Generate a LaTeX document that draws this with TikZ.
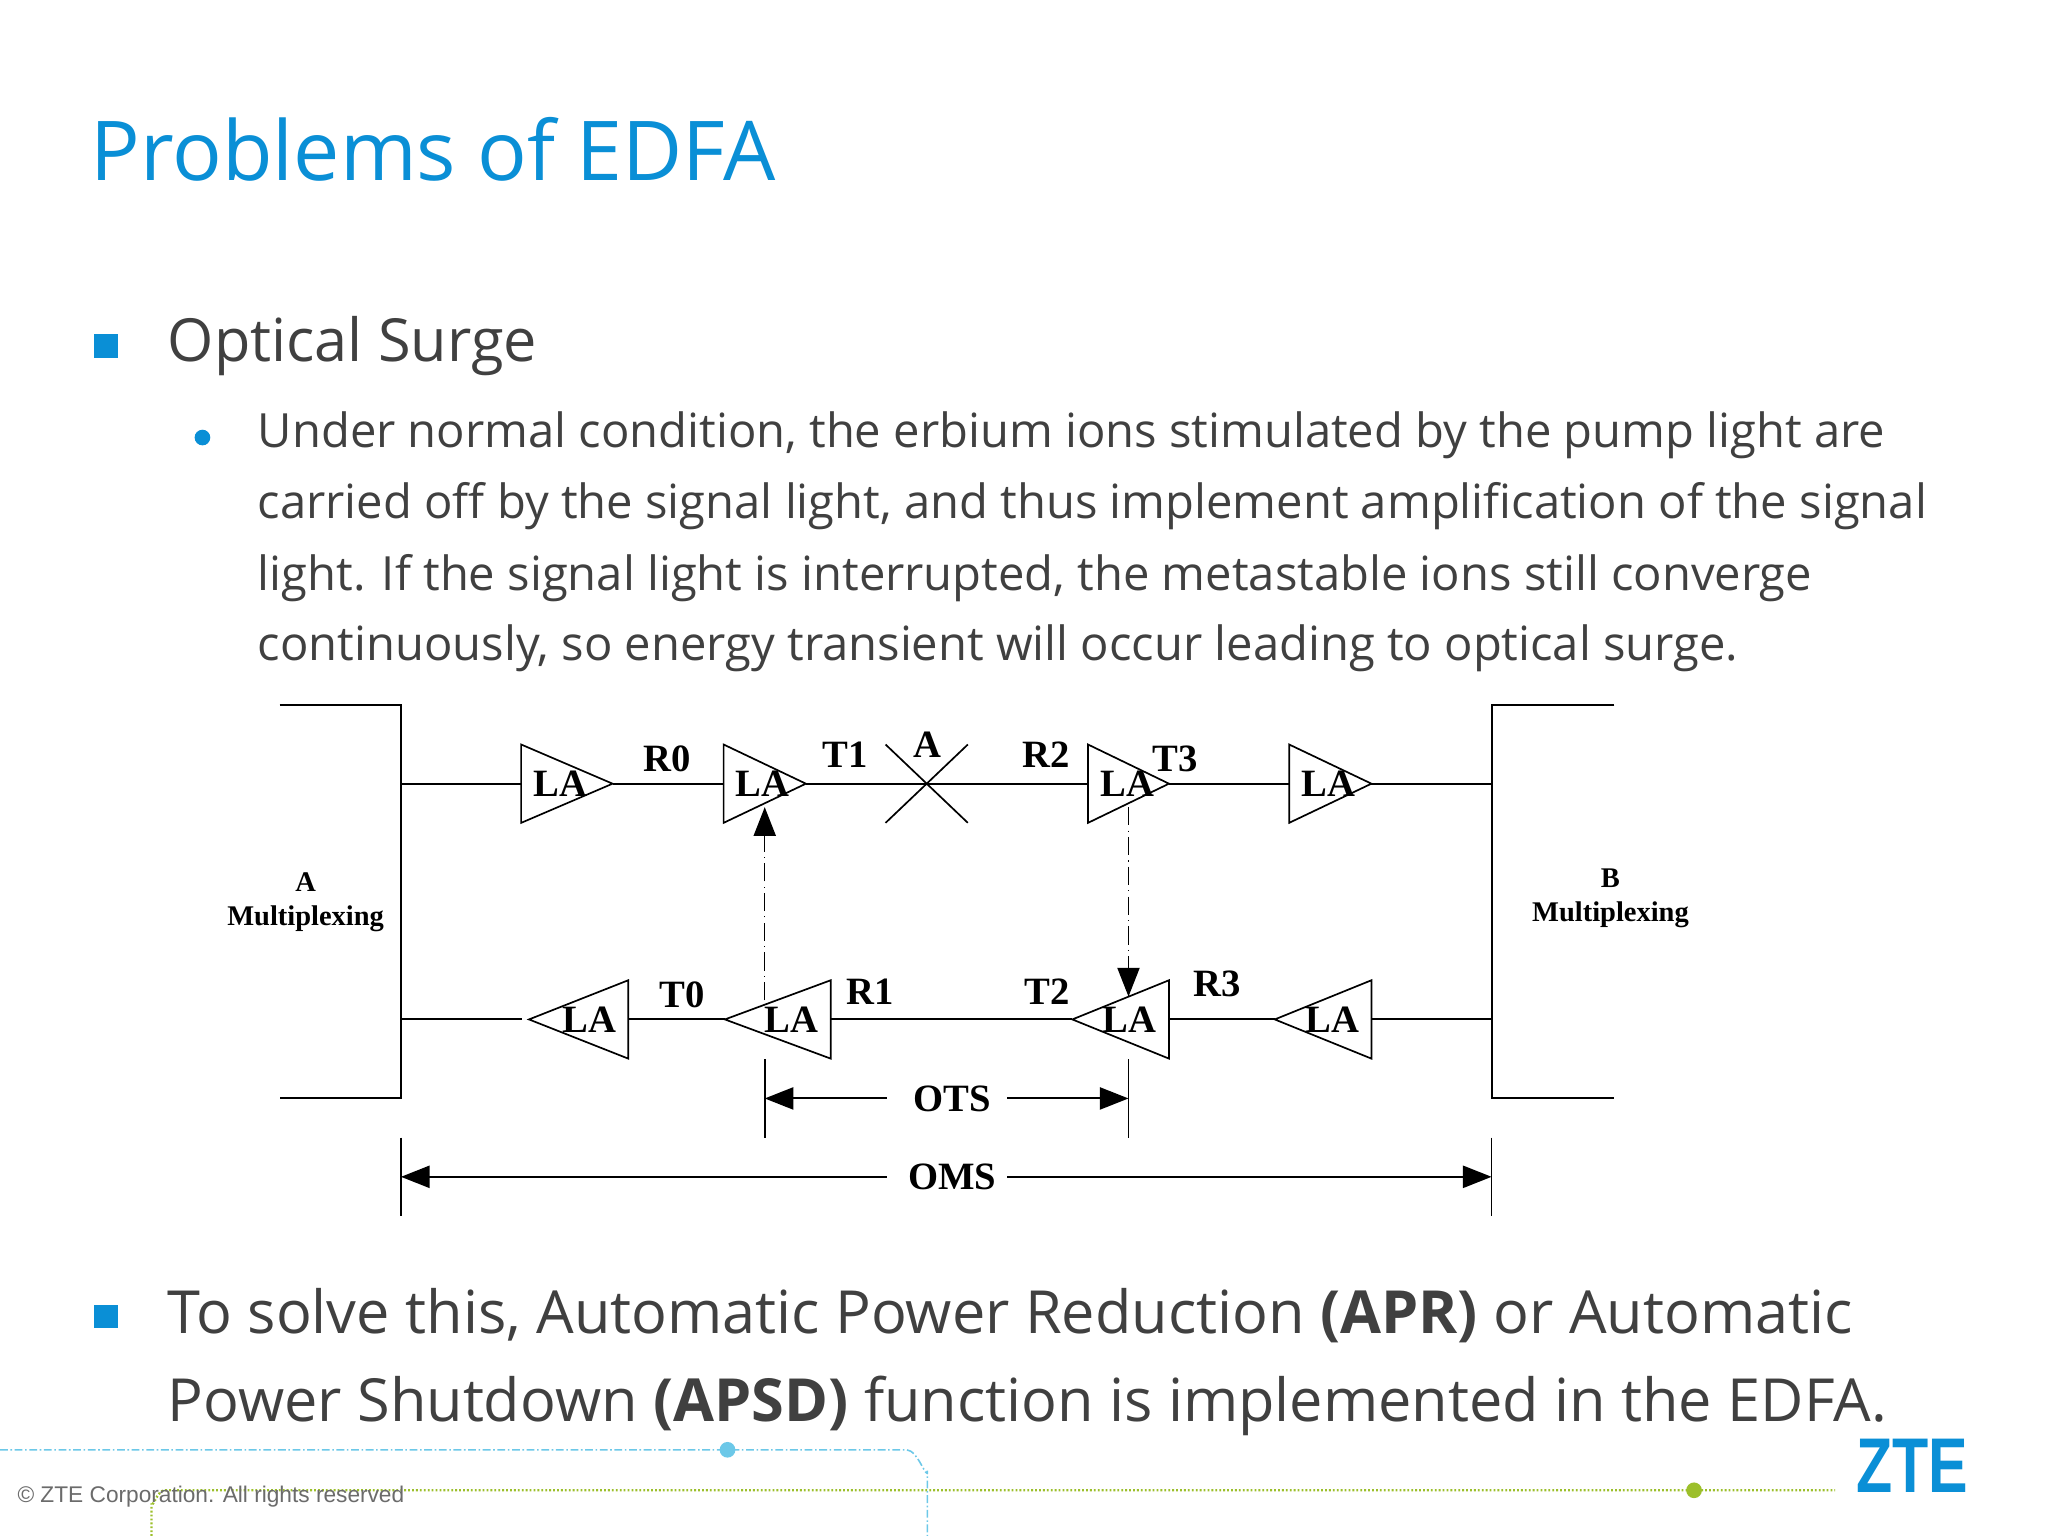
\documentclass[tikz,border=0pt]{standalone}
\usepackage{fontspec}
\usetikzlibrary{arrows.meta}
\setmainfont{Open Sans}
\newfontfamily\dgm{Liberation Serif}[BoldFont={Liberation Serif Bold}]
\newfontfamily\foot{Liberation Sans}
\definecolor{ztb}{HTML}{0A8FD6}
\definecolor{txt}{HTML}{404040}
\definecolor{ltb}{HTML}{6CC8E8}
\definecolor{lgr}{HTML}{9CBF2B}
\tikzset{
 title/.style={anchor=base west,inner sep=0,text=ztb,font=\fontsize{31.6}{38}\selectfont},
 lvla/.style={anchor=base west,inner sep=0,text=txt,font=\fontsize{22.75}{28}\selectfont},
 lvlb/.style={anchor=base west,inner sep=0,text=txt,font=\fontsize{18.05}{22}\selectfont},
 lab/.style={inner sep=0,font=\dgm\bfseries\fontsize{14.8}{17}\selectfont},
 mux/.style={inner sep=0,align=center,font=\dgm\bfseries\fontsize{10.9}{13}\selectfont},
 wire/.style={line width=0.75pt,black},
 amp/.style={line width=0.65pt,black},
 ctl/.style={line width=0.5pt,black,dash pattern=on 7pt off 2pt on 0.4pt off 2pt},
 tipa/.style={-{Triangle[length=11pt,width=8.5pt]}},
 dimline/.style={line width=0.65pt,black},
 sqb/.style={fill=ztb,draw=none,minimum size=9pt,inner sep=0},
 rdb/.style={circle,fill=ztb,draw=none,minimum size=6pt,inner sep=0},
 bluel/.style={ltb,line width=0.6pt,dash pattern=on 3pt off 1pt on 0.6pt off 1pt},
 greenl/.style={lgr,line width=0.9pt,dash pattern=on 0.7pt off 0.8pt},
}
\newcommand{\ampl}[6]{% name, base x, tip x, y, half height, label x
 \coordinate (#1b) at (#2,#4);
 \coordinate (#1t) at (#3,#4);
 \draw[amp,line join=miter] (#2,#4-#5) -- (#1t) -- (#2,#4+#5) -- cycle;
 \node[lab] (#1l) at (#6,#4) {LA};
}
\begin{document}
\begin{tikzpicture}[x=0.5pt,y=-0.5pt]
\useasboundingbox (0,0) rectangle (1568,1176);
\fill[white] (0,0) rectangle (1568,1176);
% footer lines
\coordinate (bl0) at (0,1110);
\coordinate (bl1) at (694,1110);
\coordinate (bl2) at (710,1126);
\coordinate (bl3) at (710,1176);
\draw[bluel] (bl0) -- (bl1) to[out=0,in=-90] (bl2) -- (bl3);
\node[circle,fill=ltb,minimum size=6pt,inner sep=0] (bdot) at (557,1110) {};
\coordinate (gl0) at (116,1176);
\coordinate (gl1) at (116,1151);
\coordinate (gl2) at (126,1141);
\coordinate (gl3) at (1405,1141);
\draw[greenl] (gl0) -- (gl1) to[out=-90,in=180] (gl2) -- (gl3);
\node[circle,fill=lgr,minimum size=6pt,inner sep=0] (gdot) at (1297,1141) {};
\node[anchor=base west,inner sep=0,text=black!58,font=\foot\fontsize{8.68}{11}\selectfont] (copy) at (13,1150) {© ZTE Corporation. All rights reserved};
\node[anchor=center,inner sep=0,text=ztb] (logo) at (1464,1122) {\scalebox{0.84}[1.1]{\foot\bfseries\fontsize{27}{30}\selectfont ZTE}};
% text
\node[title] (t) at (69,138) {Problems of EDFA};
\node[sqb] (b1) at (81,265) {};
\node[lvla] (h1) at (128,277) {Optical Surge};
\node[rdb] (b2) at (155,335) {};
\node[lvlb] (p1) at (197,343) {Under normal condition, the erbium ions stimulated by the pump light are};
\node[lvlb] (p2) at (197,397) {carried off by the signal light, and thus implement amplification of the signal};
\node[lvlb] (p3) at (197,452) {light. If the signal light is interrupted, the metastable ions still converge};
\node[lvlb] (p4) at (197,506) {continuously, so energy transient will occur leading to optical surge.};
\node[sqb] (b3) at (81,1008) {};
\node[lvla] (h2) at (128,1021) {To solve this, Automatic Power Reduction \textbf{(APR)} or Automatic};
\node[lvla] (h3) at (128,1088) {Power Shutdown \textbf{(APSD)} function is implemented in the EDFA.};
% diagram
\draw[wire] (214,540) -- (307,540) coordinate (lt) -- (307,841) coordinate (lb) -- (214,841);
\draw[wire] (1236,540) -- (1142,540) coordinate (rt) -- (1142,841) coordinate (rb) -- (1236,841);
\coordinate (lu) at (307,600); \coordinate (ld) at (307,780.5);
\coordinate (ru) at (1142,600); \coordinate (rd) at (1142,780.5);
\coordinate (eo) at (400,780.5);
\ampl{a}{399}{469}{600}{30}{429}
\ampl{b}{554}{617}{600}{30}{584}
\ampl{c}{833}{895}{600}{30}{863}
\ampl{d}{987}{1050}{600}{30}{1017}
\ampl{e}{481}{405}{780.5}{30}{451}
\ampl{f}{636}{555}{780.5}{30}{606}
\ampl{g}{895}{821}{780.5}{30}{865}
\ampl{h}{1050}{976}{780.5}{30}{1020}
\draw[wire] (lu) -- (ab);
\draw[wire] (at) -- (bb);
\draw[wire] (bt) -- (cb);
\draw[wire] (ct) -- (db);
\draw[wire] (dt) -- (ru);
\draw[wire] (ld) -- (eo);
\draw[wire] (eb) -- (ft);
\draw[wire] (fb) -- (gt);
\draw[wire] (gb) -- (ht);
\draw[wire] (hb) -- (rd);
% break mark
\coordinate (x1) at (678,570); \coordinate (x2) at (741,630);
\coordinate (x3) at (741,570); \coordinate (x4) at (678,630);
\draw[amp] (x1) -- (x2);
\draw[amp] (x3) -- (x4);
% control
\coordinate (cf) at (585.5,766); \coordinate (cb2) at (585.5,618);
\draw[ctl,tipa] (cf) -- (cb2);
\coordinate (cc) at (864,618); \coordinate (cg) at (864,763);
\draw[ctl,tipa] (cc) -- (cg);
% labels
\node[lab] (R0) at (511,581) {R0};
\node[lab] (T1) at (647,578) {T1};
\node[lab] (A) at (710,570) {A};
\node[lab] (R2) at (801,578) {R2};
\node[lab] (T3) at (900,581) {T3};
\node[lab] (T0) at (522,762) {T0};
\node[lab] (R1) at (666,759) {R1};
\node[lab] (T2) at (802,759) {T2};
\node[lab] (R3) at (932,753) {R3};
\node[mux] (am) at (234,691) {A\\Multiplexing};
\node[mux] (bm) at (1233,688) {B\\Multiplexing};
% dimensions
\node[lab] (ots) at (729,841) {OTS};
\node[lab] (oms) at (729,901) {OMS};
\coordinate (d1a) at (585.5,811); \coordinate (d1b) at (585.5,871);
\coordinate (d2a) at (864,811); \coordinate (d2b) at (864,871);
\coordinate (d3a) at (307,871); \coordinate (d3b) at (307,931);
\coordinate (d4a) at (1142,871); \coordinate (d4b) at (1142,931);
\coordinate (o1) at (585.5,841); \coordinate (o2) at (864,841);
\coordinate (m1) at (307,901); \coordinate (m2) at (1142,901);
\coordinate (o1e) at (679,841); \coordinate (o2e) at (771,841);
\coordinate (m1e) at (679,901); \coordinate (m2e) at (771,901);
\draw[dimline] (d1a) -- (d1b);
\draw[dimline] (d2a) -- (d2b);
\draw[dimline] (d3a) -- (d3b);
\draw[dimline] (d4a) -- (d4b);
\draw[wire,tipa] (o1e) -- (o1);
\draw[wire,tipa] (o2e) -- (o2);
\draw[wire,tipa] (m1e) -- (m1);
\draw[wire,tipa] (m2e) -- (m2);
\end{tikzpicture}
\end{document}
